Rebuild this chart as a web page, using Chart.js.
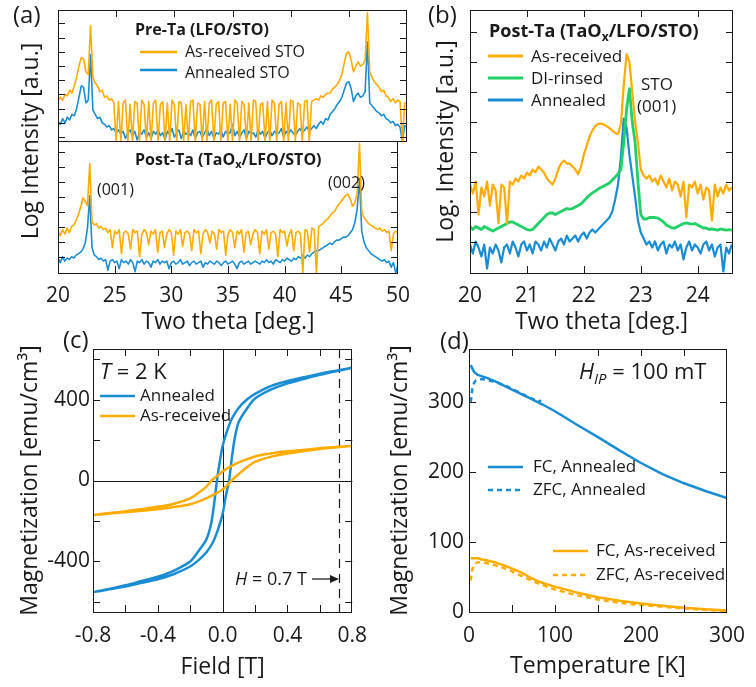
<!DOCTYPE html>
<html>
<head>
<meta charset="utf-8">
<script src="https://cdn.jsdelivr.net/npm/chart.js@4.4.1/dist/chart.umd.min.js"></script>
<style>
  body { margin: 0; background: #fff; }
  #wrap { position: relative; width: 756px; height: 687px; }
  canvas { position: absolute; }
</style>
</head>
<body>
<div id="wrap">
  <canvas id="aTop" width="420" height="341" style="left:0;top:0"></canvas>
  <canvas id="aBot" width="420" height="341" style="left:0;top:0"></canvas>
  <canvas id="bChart" width="336" height="341" style="left:420px;top:0"></canvas>
  <canvas id="cChart" width="378" height="357" style="left:0;top:330px"></canvas>
  <canvas id="dChart" width="378" height="357" style="left:378px;top:330px"></canvas>
</div>
<script>
// ---- (a) XRD, 20-50 deg, log intensity (arb. units) ----
const thetaA = [20,20.2,20.4,20.6,20.8,21,21.2,21.4,21.6,21.8,
  22,22.2,22.4,22.6,22.8,23,23.2,23.4,23.6,23.8,
  24,24.2,24.4,24.6,24.8,25,25.2,25.4,25.6,25.8,
  26,26.2,26.4,26.6,26.8,27,27.2,27.4,27.6,27.8,
  28,28.2,28.4,28.6,28.8,29,29.2,29.4,29.6,29.8,
  30,30.2,30.4,30.6,30.8,31,31.2,31.4,31.6,31.8,
  32,32.2,32.4,32.6,32.8,33,33.2,33.4,33.6,33.8,
  34,34.2,34.4,34.6,34.8,35,35.2,35.4,35.6,35.8,
  36,36.2,36.4,36.6,36.8,37,37.2,37.4,37.6,37.8,
  38,38.2,38.4,38.6,38.8,39,39.2,39.4,39.6,39.8,
  40,40.2,40.4,40.6,40.8,41,41.2,41.4,41.6,41.8,
  42,42.2,42.4,42.6,42.8,43,43.2,43.4,43.6,43.8,
  44,44.2,44.4,44.6,44.8,45,45.2,45.4,45.6,45.8,
  46,46.2,46.4,46.6,46.8,47,47.2,47.4,47.6,47.8,
  48,48.2,48.4,48.6,48.8,49,49.2,49.4,49.6,49.8,
  50];

// pre-Ta
const aTopAsRec = [3.5,3.8,3.6,4.0,3.9,4.3,4.1,4.6,5.2,6.0,
  6.6,6.5,5.6,5.4,8.85,5.2,4.8,4.6,4.2,4.3,
  3.8,3.9,3.6,3.7,3.4,0.7,3.5,0.7,3.4,3.6,
  0.7,3.3,0.7,3.5,3.4,0.7,3.6,3.3,0.7,3.5,
  0.7,3.4,3.6,0.7,3.3,3.5,0.7,3.4,0.7,3.6,
  3.3,0.7,3.5,3.4,0.7,3.3,0.7,3.5,3.6,0.7,
  3.4,3.3,0.7,3.5,0.7,3.4,3.6,0.7,3.3,3.5,
  0.7,3.4,3.5,0.7,3.3,0.7,3.6,3.4,0.7,3.5,
  3.3,0.7,3.4,0.7,3.6,3.5,0.7,3.3,3.4,0.7,
  3.5,0.7,3.6,3.4,0.7,3.3,3.5,0.7,3.4,0.7,
  3.6,3.5,0.7,3.4,3.3,0.7,3.5,3.6,0.7,3.5,
  3.6,3.7,3.6,3.9,3.8,4.0,4.1,4.1,4.4,4.5,
  4.7,5.0,5.4,6.2,6.9,7.0,6.4,5.6,6.0,6.3,
  6.0,6.1,6.4,9.75,5.6,5.2,4.9,4.7,4.5,4.2,
  4.3,3.9,3.8,3.5,3.7,3.4,3.6,3.5,0.7,3.4,
  3.4];
const aTopAnn = [2.1,1.9,2.3,2.0,2.4,2.2,2.6,2.5,3.0,3.8,
  4.6,4.5,3.4,3.6,6.8,2.9,2.6,2.3,2.4,2.0,
  1.9,1.7,1.8,1.5,1.6,1.3,1.5,1.2,1.4,0.9,
  1.3,1.5,1.1,1.4,0.8,1.3,1.2,1.5,1.0,1.3,
  0.9,1.4,1.2,1.5,1.1,1.3,0.8,1.4,1.2,1.6,
  1.0,1.3,1.5,0.9,1.4,1.2,1.3,1.1,1.5,0.9,
  1.3,1.4,1.0,1.3,1.6,1.1,1.4,0.9,1.3,1.2,
  1.5,1.0,1.4,1.2,1.3,1.9,1.1,1.4,1.0,1.3,
  1.5,0.9,1.4,1.2,1.3,1.0,1.5,1.2,1.4,0.9,
  1.3,1.5,1.1,1.4,1.2,1.3,1.6,1.0,1.4,1.2,
  1.5,1.3,1.1,1.4,1.6,1.3,1.5,1.7,1.4,1.6,
  1.8,1.6,1.9,2.1,1.9,2.3,2.2,2.6,2.8,3.0,
  3.3,3.5,3.8,4.3,4.8,4.9,4.4,3.5,3.9,4.1,
  3.8,3.9,4.2,7.7,3.4,3.2,3.0,2.8,2.7,2.5,
  2.6,2.3,2.2,2.0,2.1,1.8,1.9,1.7,0.7,1.8,
  1.7];

// post-Ta
const aBotAsRec = [2.7,2.4,2.8,2.5,2.9,2.6,3.0,3.1,3.4,3.8,
  4.3,4.9,4.7,4.4,7.2,3.3,3.1,3.2,2.9,3.0,
  2.8,2.9,2.6,2.8,1.6,2.7,2.5,2.8,1.2,2.6,
  2.7,2.5,1.5,2.8,2.6,2.7,1.0,2.5,2.8,2.6,
  1.8,2.7,2.5,2.8,1.3,2.6,2.7,1.6,2.5,2.8,
  2.6,1.1,2.7,2.5,2.8,1.7,2.6,2.7,2.5,1.4,
  2.8,2.6,2.7,1.2,2.5,2.8,2.6,1.9,2.7,2.5,
  1.5,2.8,2.6,2.7,1.1,2.5,2.8,2.6,1.6,2.7,
  2.5,2.8,1.3,2.6,2.7,1.8,2.5,2.8,2.6,1.2,
  2.7,2.5,2.8,1.5,2.6,2.7,2.5,1.0,2.8,2.6,
  2.7,1.7,2.5,2.8,1.4,2.6,2.7,2.5,-0.1,2.8,
  2.7,1.3,2.9,2.8,-0.1,3.0,3.1,3.2,3.4,3.5,
  3.7,3.9,4.0,4.3,4.5,4.7,4.9,5.1,5.15,4.8,
  4.35,4.6,5.2,8.55,4.0,3.6,3.4,3.2,3.1,3.0,
  2.9,2.8,2.9,2.7,2.8,2.6,2.7,1.4,2.5,2.7,
  2.6];
const aBotAnn = [0.9,0.6,1.0,0.7,0.9,0.8,1.0,0.9,1.1,1.2,
  1.3,1.5,1.9,2.9,5.05,1.6,1.1,1.0,0.8,0.9,
  0.7,0.8,0.1,0.7,0.8,0.6,0.7,0.2,0.8,0.6,
  0.7,0.5,0.8,0.6,0.0,0.7,0.6,0.8,0.5,0.7,
  0.6,0.3,0.7,0.6,0.8,0.5,0.7,0.6,0.7,0.2,
  0.6,0.7,0.5,0.6,0.8,0.5,0.6,0.7,0.4,0.6,
  0.7,0.5,0.6,0.7,0.3,0.6,0.5,0.7,0.6,0.5,
  0.7,0.6,0.4,0.6,0.7,0.5,0.6,0.7,0.5,0.2,
  0.6,0.7,0.5,0.6,0.7,0.5,0.6,0.7,0.6,0.5,
  0.7,0.6,0.8,0.6,0.7,0.5,0.8,0.7,0.6,0.8,
  0.7,0.9,0.8,0.7,0.9,0.8,1.0,0.9,1.1,0.9,
  1.1,1.0,1.2,1.3,1.4,1.4,1.5,1.6,1.7,1.8,
  1.9,1.8,2.0,2.1,2.1,2.2,2.3,2.3,2.4,2.6,
  2.8,3.3,4.2,6.2,2.7,2.0,1.6,1.4,1.2,1.1,
  1.0,0.9,0.8,0.7,0.8,0.6,0.7,0.3,0.6,-0.1,
  0.5];

// ---- (b) XRD around STO (001) ----
const thetaB = [20,20.05,20.1,20.15,20.2,20.25,20.3,20.35,20.4,20.45,
  20.5,20.55,20.6,20.65,20.7,20.75,20.8,20.85,20.9,20.95,
  21,21.05,21.1,21.15,21.2,21.25,21.3,21.35,21.4,21.45,
  21.5,21.55,21.6,21.65,21.7,21.75,21.8,21.85,21.9,21.95,
  22,22.05,22.1,22.15,22.2,22.25,22.3,22.35,22.4,22.45,
  22.5,22.55,22.6,22.65,22.7,22.75,22.8,22.85,22.9,22.95,
  23,23.05,23.1,23.15,23.2,23.25,23.3,23.35,23.4,23.45,
  23.5,23.55,23.6,23.65,23.7,23.75,23.8,23.85,23.9,23.95,
  24,24.05,24.1,24.15,24.2,24.25,24.3,24.35,24.4,24.45,
  24.5,24.55,24.6];
const bAsRec = [2.9,2.6,3.0,1.9,2.8,2.5,3.0,2.2,2.9,2.7,
  1.6,2.9,2.8,1.6,3.0,2.9,3.1,3.0,3.2,3.1,
  3.3,3.2,3.4,3.3,3.5,3.4,3.3,3.1,3.0,2.9,
  3.1,3.4,3.6,3.7,3.6,3.6,3.5,3.4,3.25,3.5,
  3.9,4.2,4.5,4.7,4.85,4.92,4.93,4.9,4.85,4.78,
  4.7,4.62,4.58,4.9,6.2,7.25,7.0,6.0,5.0,4.3,
  3.4,3.2,3.1,3.2,3.0,3.1,2.9,3.2,3.0,2.8,
  3.1,2.7,3.0,2.9,2.5,3.0,1.8,2.9,2.8,3.0,
  2.6,2.9,2.4,2.8,2.7,1.7,2.9,2.5,2.8,2.6,
  2.9,2.7,2.8];
const bDiRinsed = [1.5,1.4,1.5,1.45,1.4,1.5,1.45,1.4,1.35,1.4,
  1.45,1.5,1.55,1.6,1.65,1.65,1.6,1.55,1.5,1.45,
  1.4,1.38,1.4,1.5,1.6,1.7,1.8,1.9,1.95,1.95,
  1.9,1.95,2.0,2.05,2.1,2.08,2.1,2.15,2.2,2.25,
  2.35,2.45,2.55,2.62,2.68,2.75,2.8,2.85,2.9,2.95,
  3.05,3.15,3.25,3.4,4.3,5.4,6.1,5.0,4.3,3.0,
  1.9,1.75,1.75,1.8,1.8,1.8,1.78,1.72,1.65,1.55,
  1.5,1.45,1.45,1.5,1.55,1.6,1.62,1.6,1.58,1.6,
  1.55,1.5,1.45,1.45,1.4,1.42,1.4,1.38,1.42,1.4,
  1.38,1.4,1.38];
const bAnnealed = [0.9,0.6,1.0,0.8,0.5,0.9,0.1,0.8,0.6,0.9,
  0.7,0.3,0.8,0.9,0.6,1.0,0.8,0.5,0.9,1.0,
  0.7,0.9,0.6,1.0,0.9,0.7,1.0,0.8,1.1,0.9,
  0.7,1.0,1.1,0.9,1.2,1.0,1.1,1.2,1.0,1.2,
  1.3,1.1,1.3,1.4,1.3,1.4,1.5,1.6,1.7,1.8,
  2.0,2.4,2.9,3.8,5.1,4.8,3.9,3.2,2.5,1.7,
  1.3,1.1,0.9,1.0,0.8,1.0,0.7,0.9,1.0,0.6,
  0.9,0.8,1.0,0.7,0.9,0.4,0.8,1.0,0.7,0.9,
  0.8,0.6,0.9,1.0,0.7,0.9,0.5,0.8,0.9,0.0,
  0.8,0.6,0.9];

// ---- (c) M(H) loops at 2 K ----
const cFieldAnn = [0.8,0.7,0.6,0.5,0.4,0.3,0.2,0.15,0.1,0.06,0.03,0,-0.02,-0.035,-0.05,-0.07,-0.1,-0.15,-0.2,-0.3,-0.4,-0.5,-0.6,-0.7,-0.8,
  -0.7,-0.6,-0.5,-0.4,-0.3,-0.2,-0.15,-0.1,-0.06,-0.03,0,0.02,0.04,0.055,0.075,0.1,0.15,0.2,0.3,0.4,0.5,0.6,0.7,0.8];
const cMagAnn = [557,543,528,510,492,468,428,400,360,310,250,170,80,0,-100,-210,-290,-350,-400,-445,-476,-497,-518,-536,-552,
  -538,-524,-506,-488,-462,-425,-395,-355,-305,-245,-165,-75,0,100,210,290,355,405,450,480,502,522,540,557];
const cFieldAsr = [0.8,0.6,0.4,0.3,0.2,0.1,0.05,0,-0.03,-0.068,-0.1,-0.15,-0.2,-0.3,-0.4,-0.6,-0.8,
  -0.6,-0.4,-0.3,-0.2,-0.1,-0.05,0,0.03,0.055,0.1,0.15,0.2,0.3,0.4,0.6,0.8];
const cMagAsr = [172,160,144,134,119,90,70,45,25,0,-30,-62,-88,-115,-130,-152,-170,
  -157,-142,-131,-117,-88,-68,-45,-22,0,32,65,92,118,134,156,172];
const cMarkField = 0.72;

// ---- (d) M(T) at 100 mT ----
const dTempFcAnn = [2,4,6,10,20,30,50,70,85,100,125,150,175,200,225,250,275,300];
const dMagFcAnn = [353,348,343,339,335,330,318,306,297,287,268,250,231,213,197,184,173,163];
const dTempZfcAnn = [2,3,4,6,8,10,15,20,30,40,50,60,70,80,84];
const dMagZfcAnn = [300,310,320,328,331,332,333,332,329,325,319,313,307,301,302];
const dTempFcAsr = [2,5,10,15,20,30,40,50,60,70,80,100,125,150,175,200,225,250,275,300];
const dMagFcAsr = [77,77,77,75,74,71,67,62,57,50,44,36,28,21,16,12,9,6,4,2];
const dTempZfcAsr = [2,4,7,10,15,20,30,40,50,60,80,100,125,150,175,200,250,300];
const dMagZfcAsr = [45,62,69,71,71,70,67,63,58,52,41,32,24,18,13,10,5,1];

const INK = '#1a1a1a';
const FONT = "'Open Sans', sans-serif";
const ORANGE = 'rgb(255,172,0)';
const BLUE = 'rgb(26,140,212)';
const GREEN = 'rgb(34,208,104)';

Chart.defaults.font.family = FONT;
Chart.defaults.color = INK;

function pts(xs, ys) {
  return xs.map((x, i) => ({ x: x, y: ys[i] }));
}

function series(label, xs, ys, color, width, dash, tension) {
  return {
    label: label,
    data: pts(xs, ys),
    borderColor: color,
    backgroundColor: color,
    borderWidth: width,
    borderDash: dash || [],
    borderJoinStyle: 'round',
    pointRadius: 0,
    showLine: true,
    tension: tension || 0
  };
}

function axis(min, max, step, o) {
  const ticks = {
    stepSize: step,
    autoSkip: false,
    includeBounds: false,
    maxRotation: 0,
    display: o.labels !== false,
    padding: o.pad || 0,
    color: INK,
    font: { family: FONT, size: 21 }
  };
  if (o.fmt) ticks.callback = o.fmt;
  return {
    type: 'linear',
    min: min,
    max: max,
    grid: { display: false, drawTicks: false },
    border: { display: false },
    ticks: ticks,
    title: o.title
      ? { display: true, text: o.title, color: INK, font: { family: FONT, size: 23 }, padding: o.titlePad }
      : { display: false },
    afterFit: function (s) {
      if (s.isHorizontal()) s.height = o.size; else s.width = o.size;
    }
  };
}

function drawRich(ctx, t) {
  ctx.save();
  ctx.translate(t.x, t.y);
  if (t.rotate) ctx.rotate(t.rotate);
  ctx.textBaseline = 'middle';
  ctx.fillStyle = INK;
  const parts = t.parts || [{ t: t.text }];
  let w = 0;
  parts.forEach(p => { ctx.font = p.font || t.font; w += ctx.measureText(p.t).width; });
  let x = t.align === 'center' ? -w / 2 : 0;
  parts.forEach(p => {
    ctx.font = p.font || t.font;
    ctx.fillText(p.t, x, p.dy || 0);
    x += ctx.measureText(p.t).width;
  });
  ctx.restore();
}

// frame, inward ticks, reference lines, in-plot legends and labels
const decor = {
  id: 'decor',
  beforeDatasetsDraw(chart, args, o) {
    const { ctx, chartArea: a } = chart;
    const sx = chart.scales.x, sy = chart.scales.y;
    ctx.save();
    ctx.strokeStyle = INK;
    (o.refX || []).forEach(r => {
      const px = Math.round(sx.getPixelForValue(r.value)) + 0.5;
      ctx.lineWidth = r.width || 1;
      ctx.setLineDash(r.dash || []);
      ctx.beginPath(); ctx.moveTo(px, a.top); ctx.lineTo(px, a.bottom); ctx.stroke();
    });
    (o.refY || []).forEach(r => {
      const py = Math.round(sy.getPixelForValue(r.value)) + 0.5;
      ctx.lineWidth = r.width || 1;
      ctx.setLineDash(r.dash || []);
      ctx.beginPath(); ctx.moveTo(a.left, py); ctx.lineTo(a.right, py); ctx.stroke();
    });
    ctx.restore();
  },
  afterDatasetsDraw(chart, args, o) {
    const { ctx, chartArea: a } = chart;
    const sx = chart.scales.x, sy = chart.scales.y;
    const len = 7;
    const sides = o.sides || {};
    ctx.save();
    ctx.strokeStyle = INK;
    ctx.lineWidth = 1;
    ctx.strokeRect(Math.round(a.left) + 0.5, Math.round(a.top) + 0.5,
      Math.round(a.right - a.left) - 1, Math.round(a.bottom - a.top));
    ctx.beginPath();
    sx.ticks.forEach(t => {
      const px = Math.round(sx.getPixelForValue(t.value)) + 0.5;
      if (px < a.left + 3 || px > a.right - 3) return;
      if (sides.top) { ctx.moveTo(px, a.top); ctx.lineTo(px, a.top + len); }
      if (sides.bottom) { ctx.moveTo(px, a.bottom); ctx.lineTo(px, a.bottom - len); }
    });
    sy.ticks.forEach(t => {
      const py = Math.round(sy.getPixelForValue(t.value)) + 0.5;
      if (py < a.top + 3 || py > a.bottom - 3) return;
      if (sides.left) { ctx.moveTo(a.left, py); ctx.lineTo(a.left + len, py); }
      if (sides.right) { ctx.moveTo(a.right, py); ctx.lineTo(a.right - len, py); }
    });
    ctx.stroke();

    (o.keys || []).forEach(k => {
      ctx.strokeStyle = k.color;
      ctx.lineWidth = k.width || 2.5;
      ctx.setLineDash(k.dash || []);
      ctx.beginPath(); ctx.moveTo(k.x1, k.y); ctx.lineTo(k.x2, k.y); ctx.stroke();
    });
    ctx.setLineDash([]);

    (o.arrows || []).forEach(r => {
      ctx.strokeStyle = INK; ctx.fillStyle = INK; ctx.lineWidth = 1.3;
      ctx.beginPath(); ctx.moveTo(r.x1, r.y); ctx.lineTo(r.x2 - 6, r.y); ctx.stroke();
      ctx.beginPath(); ctx.moveTo(r.x2, r.y); ctx.lineTo(r.x2 - 9, r.y - 4); ctx.lineTo(r.x2 - 9, r.y + 4); ctx.closePath(); ctx.fill();
    });

    (o.texts || []).forEach(t => drawRich(ctx, t));
    ctx.restore();
  }
};

function makeChart(id, datasets, x, y, padding, deco) {
  return new Chart(document.getElementById(id), {
    type: 'scatter',
    data: { datasets: datasets },
    options: {
      responsive: false,
      animation: false,
      events: [],
      layout: { padding: padding },
      plugins: { legend: { display: false }, tooltip: { enabled: false }, decor: deco },
      scales: { x: x, y: y }
    },
    plugins: [decor]
  });
}

const F16 = '16px ' + FONT;
const F17 = '17px ' + FONT;
const F22 = '22px ' + FONT;
const F24 = '24px ' + FONT;

// (a) upper half: pre-Ta
makeChart('aTop',
  [series('As-received STO', thetaA, aTopAsRec, ORANGE, 1.6),
   series('Annealed STO', thetaA, aTopAnn, BLUE, 1.6)],
  axis(20, 50, 5, { labels: false, size: 0 }),
  axis(0.72, 9.95, 1, { labels: false, size: 58 }),
  { top: 10, right: 13, bottom: 200, left: 0 },
  {
    sides: { top: true, left: true, right: true },
    keys: [
      { x1: 140, x2: 177, y: 52, color: ORANGE, width: 2.5 },
      { x1: 140, x2: 177, y: 70, color: BLUE, width: 2.5 }
    ],
    texts: [
      { x: 13, y: 16, text: '(a)', font: F24 },
      { x: 31, y: 141, text: 'Log Intensity [a.u.]', font: '23px ' + FONT, align: 'center', rotate: -Math.PI / 2 },
      { x: 135, y: 30, text: 'Pre-Ta (LFO/STO)', font: 'bold 16px ' + FONT },
      { x: 185, y: 52, text: 'As-received STO', font: F16 },
      { x: 185, y: 73, text: 'Annealed STO', font: F16 }
    ]
  });

// (a) lower half: post-Ta
makeChart('aBot',
  [series('As-received', thetaA, aBotAsRec, ORANGE, 1.6),
   series('Annealed', thetaA, aBotAnn, BLUE, 1.6)],
  axis(20, 50, 5, { size: 68, pad: 10, title: 'Two theta [deg.]', titlePad: { top: 0, bottom: 5 } }),
  axis(-0.09, 8.7, 1, { labels: false, size: 58 }),
  { top: 141, right: 13, bottom: 0, left: 0 },
  {
    sides: { bottom: true, left: true, right: true },
    texts: [
      { x: 135, y: 160, font: 'bold 16px ' + FONT,
        parts: [{ t: 'Post-Ta (TaO' }, { t: 'x', font: 'bold 11px ' + FONT, dy: 5 }, { t: '/LFO/STO)' }] },
      { x: 97, y: 190, text: '(001)', font: F16 },
      { x: 328, y: 183, text: '(002)', font: F16 }
    ]
  });

// (b)
makeChart('bChart',
  [series('As-received', thetaB, bAsRec, ORANGE, 2.2),
   series('DI-rinsed', thetaB, bDiRinsed, GREEN, 2.8),
   series('Annealed', thetaB, bAnnealed, BLUE, 2.2)],
  axis(20, 24.62, 1, { size: 68, pad: 10, title: 'Two theta [deg.]', titlePad: { top: 0, bottom: 5 } }),
  axis(-0.05, 8.72, 1, { labels: false, size: 50, title: 'Log. Intensity [a.u.]', titlePad: { top: 13, bottom: 0 } }),
  { top: 10, right: 23, bottom: 0, left: 0 },
  {
    sides: { top: true, bottom: true, left: true, right: true },
    keys: [
      { x1: 68, x2: 103, y: 56, color: ORANGE, width: 3 },
      { x1: 68, x2: 103, y: 78, color: GREEN, width: 3 },
      { x1: 68, x2: 103, y: 100, color: BLUE, width: 3 }
    ],
    texts: [
      { x: 8, y: 16, text: '(b)', font: F24 },
      { x: 69, y: 32, font: 'bold 18px ' + FONT,
        parts: [{ t: 'Post-Ta (TaO' }, { t: 'x', font: 'bold 12px ' + FONT, dy: 6 }, { t: '/LFO/STO)' }] },
      { x: 111, y: 57, text: 'As-received', font: F17 },
      { x: 111, y: 79, text: 'DI-rinsed', font: F17 },
      { x: 111, y: 101, text: 'Annealed', font: F17 },
      { x: 221, y: 85, text: 'STO', font: F17 },
      { x: 217, y: 107, text: '(001)', font: F17 }
    ]
  });

// (c)
makeChart('cChart',
  [series('As-received', cFieldAsr, cMagAsr, ORANGE, 2.5, null, 0.3),
   series('Annealed', cFieldAnn, cMagAnn, BLUE, 2.5, null, 0.3)],
  axis(-0.8, 0.8, 0.2, { size: 75, pad: 11, title: 'Field [T]', titlePad: { top: 0, bottom: 6 },
    fmt: v => (Math.round(Math.abs(v) * 10) % 4 === 0 ? v.toFixed(1) : '') }),
  axis(-650, 650, 200, { size: 93, pad: 3, title: 'Magnetization [emu/cm³]', titlePad: { top: 17, bottom: 0 },
    fmt: v => (Math.round(v) % 400 === 0 ? String(Math.round(v)) : '') }),
  { top: 19, right: 23, bottom: 0, left: 0 },
  {
    sides: { top: true, bottom: true, left: true, right: true },
    refX: [{ value: 0 }, { value: cMarkField, dash: [9, 6], width: 1.2 }],
    refY: [{ value: 0 }],
    keys: [
      { x1: 100, x2: 135, y: 66, color: BLUE, width: 2.5 },
      { x1: 100, x2: 135, y: 86, color: ORANGE, width: 2.5 }
    ],
    arrows: [{ x1: 312, x2: 339, y: 249 }],
    texts: [
      { x: 63, y: 11, text: '(c)', font: F24 },
      { x: 100, y: 43, font: F22, parts: [{ t: 'T', font: 'italic 22px ' + FONT }, { t: ' = 2 K' }] },
      { x: 140, y: 66, text: 'Annealed', font: F17 },
      { x: 140, y: 86, text: 'As-received', font: F17 },
      { x: 235, y: 250, font: '18px ' + FONT, parts: [{ t: 'H', font: 'italic 18px ' + FONT }, { t: ' = 0.7 T' }] }
    ]
  });

// (d)
makeChart('dChart',
  [series('FC, Annealed', dTempFcAnn, dMagFcAnn, BLUE, 2.5),
   series('ZFC, Annealed', dTempZfcAnn, dMagZfcAnn, BLUE, 2.5, [5, 4]),
   series('FC, As-received', dTempFcAsr, dMagFcAsr, ORANGE, 2.5),
   series('ZFC, As-received', dTempZfcAsr, dMagZfcAsr, ORANGE, 2.5, [5, 4])],
  axis(0, 300, 50, { size: 75, pad: 11, title: 'Temperature [K]', titlePad: { top: 0, bottom: 7 },
    fmt: v => (v % 100 === 0 ? String(v) : '') }),
  axis(0, 376, 100, { size: 91, pad: 5, title: 'Magnetization [emu/cm³]', titlePad: { top: 9, bottom: 0 } }),
  { top: 19, right: 24, bottom: 0, left: 0 },
  {
    sides: { top: true, bottom: true, left: true, right: true },
    keys: [
      { x1: 110, x2: 145, y: 137, color: BLUE, width: 2.5 },
      { x1: 110, x2: 145, y: 160, color: BLUE, width: 2.5, dash: [5, 4] },
      { x1: 175, x2: 210, y: 221, color: ORANGE, width: 2.5 },
      { x1: 175, x2: 210, y: 245, color: ORANGE, width: 2.5, dash: [5, 4] }
    ],
    texts: [
      { x: 62, y: 12, text: '(d)', font: F24 },
      { x: 201, y: 43, font: F22, parts: [{ t: 'H', font: 'italic 22px ' + FONT },
        { t: 'IP', font: 'italic 15px ' + FONT, dy: 7 }, { t: ' = 100 mT' }] },
      { x: 155, y: 137, text: 'FC, Annealed', font: F17 },
      { x: 155, y: 160, text: 'ZFC, Annealed', font: F17 },
      { x: 218, y: 221, text: 'FC, As-received', font: F17 },
      { x: 218, y: 245, text: 'ZFC, As-received', font: F17 }
    ]
  });
</script>
</body>
</html>
